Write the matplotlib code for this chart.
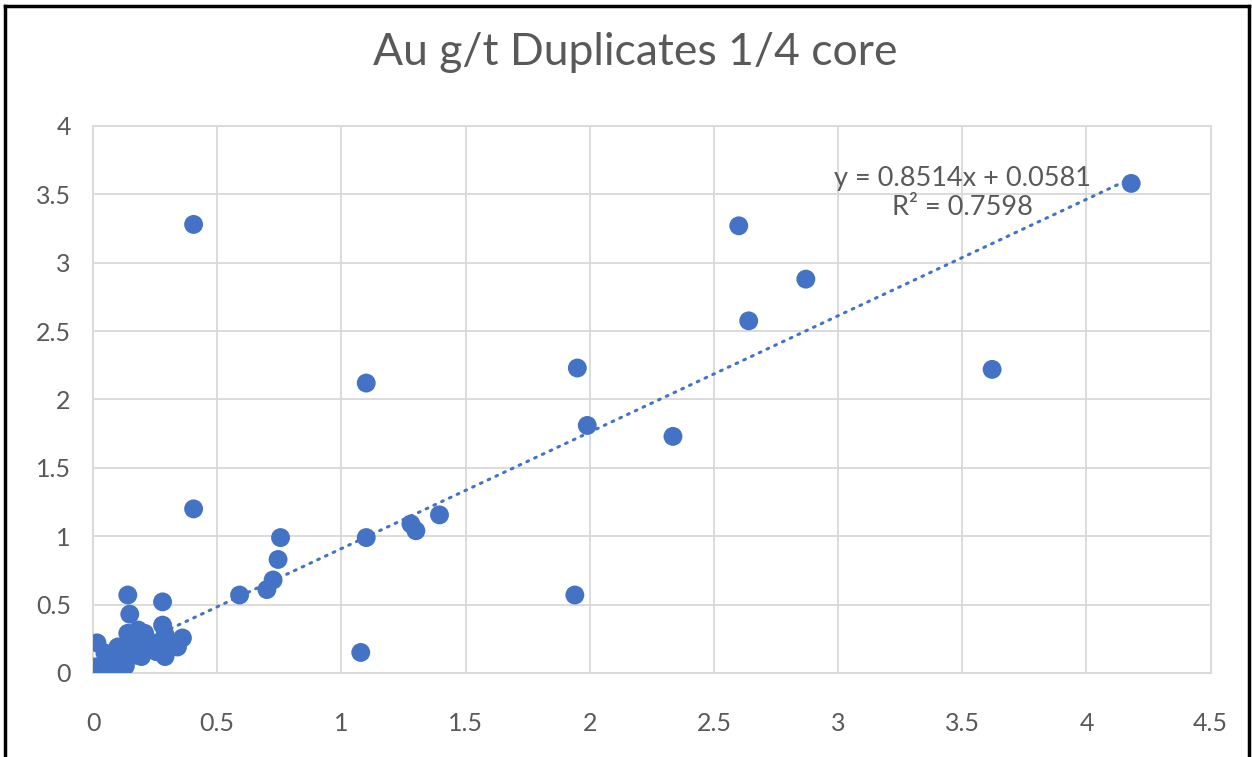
import numpy as np
import matplotlib
matplotlib.use("Agg")
import matplotlib.pyplot as plt
from matplotlib.lines import Line2D

plt.rcParams['font.family'] = ['Lato', 'DejaVu Sans']

# Au g/t: original vs 1/4 core duplicate
orig = [0.405, 0.405, 1.10, 1.078, 1.95, 1.94, 1.99, 2.335, 2.60, 2.64,
        2.87, 3.62, 4.18, 1.28, 1.30, 1.395, 1.10, 0.755, 0.745, 0.725,
        0.70, 0.59, 0.36, 0.28, 0.14, 0.148, 0.016, 0.182, 0.208, 0.28,
        0.29, 0.14, 0.315, 0.255, 0.195, 0.10, 0.048, 0.128, 0.075, 0.008,
        0.0, 0.048, 0.10, 0.29, 0.34, 0.16, 0.22, 0.12, 0.06, 0.03,
        0.09, 0.17, 0.24, 0.02, 0.11, 0.05, 0.2, 0.27, 0.13, 0.07]
dup = [3.28, 1.20, 2.12, 0.15, 2.23, 0.57, 1.81, 1.73, 3.27, 2.575,
       2.88, 2.22, 3.58, 1.09, 1.04, 1.156, 0.99, 0.99, 0.83, 0.68,
       0.61, 0.57, 0.256, 0.52, 0.57, 0.43, 0.22, 0.314, 0.29, 0.35,
       0.28, 0.29, 0.19, 0.156, 0.12, 0.19, 0.146, 0.095, 0.073, 0.044,
       0.0, 0.022, 0.02, 0.12, 0.19, 0.22, 0.24, 0.15, 0.10, 0.05,
       0.06, 0.13, 0.17, 0.01, 0.12, 0.08, 0.19, 0.21, 0.05, 0.03]

slope, intercept, r2 = 0.8514, 0.0581, 0.7598

blue = '#4472C4'
grey_txt = '#595959'
grid_c = '#D9D9D9'

fig = plt.figure(figsize=(12.52, 7.57), dpi=100)
ax = fig.add_axes([0.0743, 0.111, 0.8927, 0.7226])

ax.scatter(orig, dup, s=185, color=blue, edgecolors='none', zorder=3)

xs = np.array([min(orig), max(orig)])
ax.plot(xs, slope * xs + intercept, color=blue, lw=2.2, ls=(0, (0.6, 2.2)),
        dash_capstyle='round', zorder=2)

ax.text(3.50, 3.51, f'y = {slope}x + {intercept}\nR² = {r2}', ha='center',
        va='center', multialignment='center', fontsize=19.5, color=grey_txt,
        linespacing=1.2, zorder=4)

ax.set_xlim(0, 4.5)
ax.set_ylim(0, 4)
ax.set_xticks(np.arange(0, 4.51, 0.5))
ax.set_yticks(np.arange(0, 4.01, 0.5))
ax.set_xticklabels(['0', '0.5', '1', '1.5', '2', '2.5', '3', '3.5', '4', '4.5'])
ax.set_yticklabels(['0', '0.5', '1', '1.5', '2', '2.5', '3', '3.5', '4'])
ax.tick_params(axis='both', length=0, labelsize=18, labelcolor=grey_txt)
ax.tick_params(axis='x', pad=28)
ax.tick_params(axis='y', pad=16)
ax.grid(True, color=grid_c, lw=1.3)
ax.set_axisbelow(True)
for sp in ax.spines.values():
    sp.set_color(grid_c)
    sp.set_linewidth(1.3)

fig.text(0.507, 0.93, 'Au g/t Duplicates 1/4 core', ha='center', va='center',
         fontsize=32, color=grey_txt)

# outer black frame of the screenshot
for xy in [([0.004, 0.004], [0.0, 0.992]), ([0.004, 0.998], [0.992, 0.992]),
           ([0.998, 0.998], [0.0, 0.992])]:
    fig.add_artist(Line2D(xy[0], xy[1], color='black', lw=2.5,
                          transform=fig.transFigure))

fig.savefig('out.png', dpi=100)
